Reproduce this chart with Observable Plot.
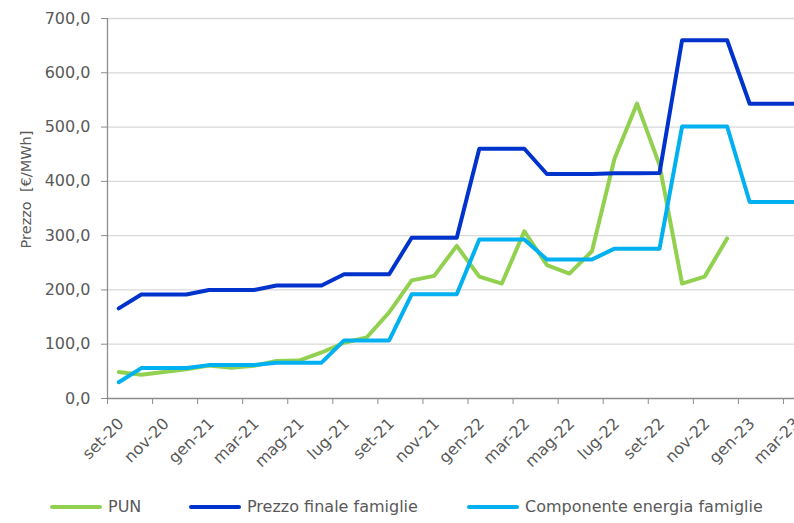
<!DOCTYPE html>
<html>
<head>
<meta charset="utf-8">
<script src="https://cdn.jsdelivr.net/npm/d3@7"></script>
<script src="https://cdn.jsdelivr.net/npm/@observablehq/plot@0.6"></script>
<style>
  html, body { margin: 0; padding: 0; background: #fff; overflow: hidden; width: 794px; height: 523px; }
  #legend { position: relative; height: 33px; font-family: "DejaVu Sans", sans-serif; font-size: 16px; color: #595959; }
  .item { position: absolute; top: 0; height: 33px; display: flex; align-items: center; white-space: nowrap; }
  .swatch { display: inline-block; height: 4px; border-radius: 2px; margin-right: 6px; }
</style>
</head>
<body>
<div id="chart"></div>
<div id="legend"></div>
<script>
// ---- data ----
const months = ["set-20","ott-20","nov-20","dic-20","gen-21","feb-21","mar-21","apr-21","mag-21","giu-21","lug-21","ago-21","set-21","ott-21","nov-21","dic-21","gen-22","feb-22","mar-22","apr-22","mag-22","giu-22","lug-22","ago-22","set-22","ott-22","nov-22","dic-22","gen-23","feb-23","mar-23"];
const pun = [48.8, 43.6, 48.7, 54.0, 60.7, 56.6, 60.4, 69.0, 69.9, 84.8, 102.7, 112.4, 158.6, 217.6, 225.9, 281.2, 224.5, 211.7, 308.1, 245.9, 230.1, 271.3, 441.6, 543.2, 429.9, 211.7, 224.5, 294.9];
const prezzoFinale = [166, 191.5, 191.5, 191.5, 200, 200, 200, 208, 208, 208, 229, 229, 229, 296, 296, 296, 460, 460, 460, 413.5, 413.5, 413.5, 415, 415, 415.5, 660, 660, 660, 543, 543, 543];
const componenteEnergia = [30, 56, 56, 56, 61.5, 61.5, 61.5, 66, 66, 66, 107, 107, 107, 192, 192, 192, 293, 293, 293, 256, 256, 256, 276, 276, 276, 501, 501, 501, 362, 362, 362];
const seriesNames = ["PUN", "Prezzo finale famiglie", "Componente energia famiglie"];
const seriesColors = ["#92D050", "#0033CC", "#00B0F0"];
const yTicks = [0, 100, 200, 300, 400, 500, 600, 700];
const yTitle = "Prezzo\u00a0 [€/MWh]";

// ---- build table ----
const rows = [];
[pun, prezzoFinale, componenteEnergia].forEach((vals, s) => {
  vals.forEach((v, i) => rows.push({series: seriesNames[s], i, value: v}));
});
const labelIdx = months.map((m, i) => i).filter(i => i % 2 === 0);
const boundaries = d3.range(-0.5, months.length + 0.5, 2);
const itFmt = d3.formatLocale({decimal: ",", thousands: ".", grouping: [3], currency: ["€", ""]}).format(".1f");

const chart = Plot.plot({
  width: 794,
  height: 490,
  marginLeft: 107,
  marginRight: 0,
  marginTop: 18,
  marginBottom: 92,
  style: {fontFamily: "DejaVu Sans, sans-serif", fontSize: "16px", color: "#595959", background: "#fff", overflow: "visible"},
  x: {type: "linear", domain: [-0.5, months.length - 0.5], range: [107, 805.5]},
  y: {domain: [0, 700]},
  color: {domain: seriesNames, range: seriesColors},
  marks: [
    Plot.ruleY(yTicks.filter(d => d > 0), {stroke: "#d9d9d9", strokeWidth: 1.3}),
    Plot.axisY({ticks: yTicks, tickFormat: itFmt, tickSize: 6, tickPadding: 11, stroke: "#8c8c8c", fill: "#595959", fontSize: 16, label: null}),
    Plot.axisX({ticks: boundaries, tickFormat: () => "", tickSize: 6, stroke: "#8c8c8c", label: null}),
    Plot.ruleX([-0.5], {stroke: "#8c8c8c", strokeWidth: 1.3}),
    Plot.ruleY([0], {stroke: "#8c8c8c", strokeWidth: 1.3}),
    Plot.text(labelIdx, {x: d => d, frameAnchor: "bottom", text: d => months[d], rotate: -45, textAnchor: "end", dx: 6, dy: 26, fill: "#595959", fontSize: 16}),
    Plot.text([yTitle], {frameAnchor: "left", textAnchor: "middle", rotate: -90, dx: -81, dy: -19, fill: "#595959", fontSize: 14.5}),
    Plot.line(rows, {x: "i", y: "value", z: "series", stroke: "series", strokeWidth: 4, strokeLinejoin: "round", strokeLinecap: "round"})
  ]
});
document.getElementById("chart").appendChild(chart);

// ---- legend ----
const legendPos = [{lx: 50, lw: 52}, {lx: 189, lw: 52}, {lx: 467, lw: 52}];
const legend = document.getElementById("legend");
seriesNames.forEach((name, k) => {
  const item = document.createElement("div");
  item.className = "item";
  item.style.left = legendPos[k].lx + "px";
  const sw = document.createElement("span");
  sw.className = "swatch";
  sw.style.width = legendPos[k].lw + "px";
  sw.style.background = seriesColors[k];
  const t = document.createElement("span");
  t.textContent = name;
  item.appendChild(sw);
  item.appendChild(t);
  legend.appendChild(item);
});
</script>
</body>
</html>
